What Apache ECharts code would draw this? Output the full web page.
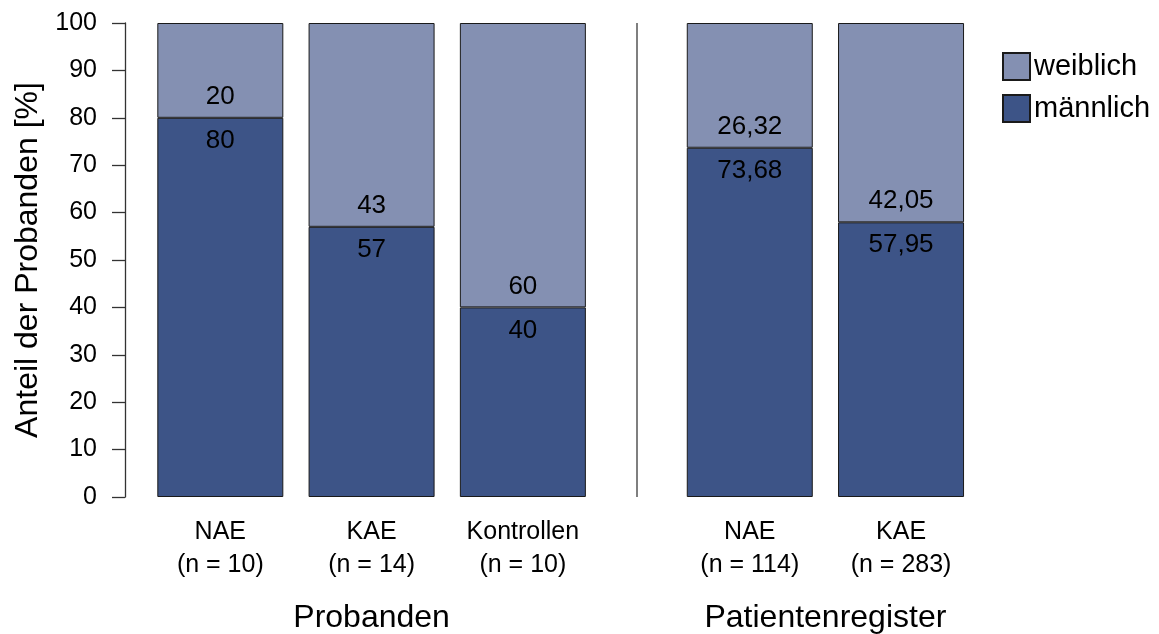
<!DOCTYPE html>
<html>
<head>
<meta charset="utf-8">
<script src="https://cdn.jsdelivr.net/npm/echarts@6/dist/echarts.min.js"></script>
<style>
  html, body { margin: 0; padding: 0; background: #fff; }
  #chart { width: 1159px; height: 634px; }
</style>
</head>
<body>
<div id="chart"></div>
<script>
// Daten
const categories = ["NAE", "KAE", "Kontrollen", "NAE", "KAE"];
const sampleSizes = [10, 14, 10, 114, 283];
const groups = ["Probanden", "Patientenregister"];
const groupOf = [0, 0, 0, 1, 1];
const maennlich = [80, 57, 40, 73.68, 57.95];
const weiblich = [20, 43, 60, 26.32, 42.05];

// half-width slots: one empty slot between bars, three between the groups
const slotOf = categories.map((c, i) => 2 * i + groupOf[i]);
const nSlots = slotOf[slotOf.length - 1] + 2;
const slotIdx = Array.from({ length: nSlots }, (d, i) => String(i));
const labelOfSlot = slotIdx.map((s, k) => {
  const i = slotOf.indexOf(k);
  return i < 0 ? "" : categories[i] + "\n(n = " + sampleSizes[i] + ")";
});
const groupOfSlot = slotIdx.map((s, k) => {
  for (let g = 0; g < groups.length; g++) {
    const sl = slotOf.filter((v, i) => groupOf[i] === g);
    if ((sl[0] + sl[sl.length - 1]) / 2 === k) return groups[g];
  }
  return "";
});
// slot k spans [k, k+1] on the helper value axis
const sepPos = (slotOf[groupOf.indexOf(1) - 1] + slotOf[groupOf.indexOf(1)] + 1) / 2;
const toSlots = arr => slotIdx.map((s, k) => {
  const i = slotOf.indexOf(k);
  return i < 0 ? "-" : arr[i];
});

const font = "'Liberation Sans', Arial, sans-serif";
const fmt = v => String(v).replace(".", ",");

const chart = echarts.init(document.getElementById("chart"));
chart.setOption({
  animation: false,
  textStyle: { fontFamily: font, color: "#000" },
  grid: { left: 182.5, right: 144.5, top: 23, bottom: 137, outerBoundsMode: "none", containLabel: false },
  legend: {
    orient: "vertical",
    left: 997,
    top: 47,
    itemWidth: 27,
    itemHeight: 27,
    itemGap: 13,
    icon: "rect",
    data: ["weiblich", "männlich"],
    textStyle: { fontSize: 29, color: "#000", fontFamily: font, padding: [0, 0, 0, -1] }
  },
  xAxis: [
    {
      type: "category",
      data: slotIdx,
      axisLine: { show: false },
      axisTick: { show: false },
      splitLine: { show: false },
      axisLabel: {
        interval: 0,
        hideOverlap: false,
        margin: 19,
        fontSize: 25,
        lineHeight: 33,
        color: "#000",
        fontFamily: font,
        formatter: (v, k) => labelOfSlot[k]
      }
    },
    {
      type: "category",
      position: "bottom",
      data: slotIdx,
      axisLine: { show: false },
      axisTick: { show: false },
      splitLine: { show: false },
      axisLabel: {
        interval: 0,
        hideOverlap: false,
        margin: 105,
        fontSize: 32,
        color: "#000",
        fontFamily: font,
        formatter: (v, k) => groupOfSlot[k]
      }
    },
    {
      type: "value",
      position: "bottom",
      min: 0,
      max: nSlots,
      show: false
    }
  ],
  yAxis: {
    type: "value",
    min: 0,
    max: 100,
    interval: 10,
    offset: 57.5,
    name: "Anteil der Probanden [%]",
    nameLocation: "middle",
    nameGap: 76,
    nameTextStyle: { fontSize: 32, color: "#000", fontFamily: font },
    axisLine: { show: true, onZero: false, lineStyle: { color: "#333", width: 1.3 } },
    axisTick: { show: true, length: 13, lineStyle: { color: "#333", width: 1.3 } },
    splitLine: { show: false },
    axisLabel: { margin: 28, fontSize: 25, color: "#000", fontFamily: font }
  },
  series: [
    {
      name: "männlich",
      type: "bar",
      stack: "anteil",
      barWidth: 126,
      clip: false,
      data: toSlots(maennlich),
      itemStyle: { color: "#3D5487", borderColor: "#1a1a1a", borderWidth: 1 },
      label: {
        show: true,
        position: "insideTop",
        distance: 10,
        fontSize: 26,
        color: "#000",
        fontFamily: font,
        formatter: p => fmt(p.value)
      }
    },
    {
      name: "weiblich",
      type: "bar",
      stack: "anteil",
      barWidth: 126,
      clip: false,
      data: toSlots(weiblich),
      itemStyle: { color: "#8490B2", borderColor: "#1a1a1a", borderWidth: 1 },
      label: {
        show: true,
        position: "insideBottom",
        distance: 8,
        fontSize: 26,
        color: "#000",
        fontFamily: font,
        formatter: p => fmt(p.value)
      }
    },
    {
      name: "trenner",
      type: "line",
      xAxisIndex: 2,
      data: [],
      silent: true,
      markLine: {
        silent: true,
        symbol: "none",
        label: { show: false },
        lineStyle: { color: "#555", width: 1.5, type: "solid" },
        data: [{ xAxis: sepPos }]
      }
    }
  ]
});
</script>
</body>
</html>
